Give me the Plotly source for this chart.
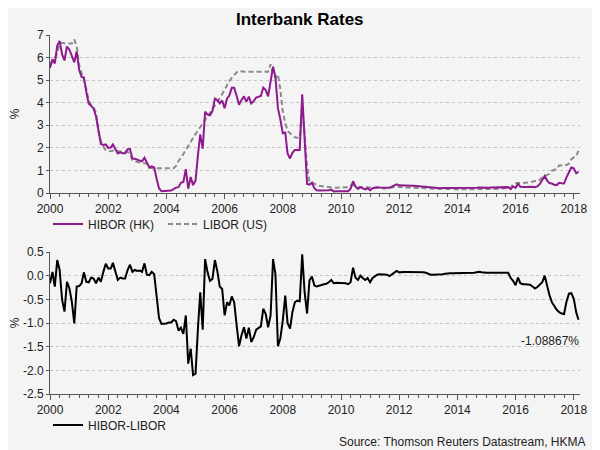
import pandas as pd
import plotly.graph_objects as go

dates = pd.date_range("2000-01-01", "2018-03-01", freq="MS")

libor = [
    5.70, 5.85, 5.97, 6.20, 6.62, 6.65, 6.63, 6.62, 6.62, 6.62, 6.80, 6.50,
    5.67, 5.30, 5.05, 4.60, 4.10, 3.90, 3.80, 3.55, 2.70, 2.30, 2.05, 1.90,
    1.85, 1.86, 1.88, 1.85, 1.84, 1.84, 1.82, 1.82, 1.82, 1.72, 1.45, 1.40,
    1.38, 1.34, 1.32, 1.30, 1.30, 1.12, 1.10, 1.10, 1.10, 1.10, 1.10, 1.10,
    1.10, 1.10, 1.10, 1.10, 1.20, 1.42, 1.55, 1.72, 1.90, 2.05, 2.25, 2.45,
    2.62, 2.80, 2.95, 3.10, 3.25, 3.40, 3.55, 3.70, 3.85, 4.02, 4.20, 4.38,
    4.60, 4.75, 4.95, 5.10, 5.22, 5.35, 5.40, 5.38, 5.37, 5.37, 5.37, 5.37,
    5.37, 5.37, 5.37, 5.37, 5.37, 5.37, 5.37, 5.70, 5.25, 5.10, 5.25, 4.60,
    3.60, 3.10, 2.75, 2.65, 2.55, 2.47, 2.45, 2.45, 3.92, 2.60, 1.20, 0.47,
    0.47, 0.42, 0.35, 0.32, 0.30, 0.28, 0.27, 0.26, 0.24, 0.23, 0.23, 0.23,
    0.23, 0.23, 0.24, 0.26, 0.33, 0.35, 0.33, 0.27, 0.26, 0.26, 0.25, 0.26,
    0.26, 0.26, 0.25, 0.23, 0.21, 0.20, 0.20, 0.22, 0.24, 0.25, 0.26, 0.28,
    0.27, 0.25, 0.24, 0.24, 0.24, 0.24, 0.24, 0.23, 0.22, 0.21, 0.21, 0.21,
    0.20, 0.20, 0.20, 0.20, 0.19, 0.19, 0.19, 0.18, 0.18, 0.17, 0.17, 0.17,
    0.16, 0.16, 0.16, 0.15, 0.15, 0.15, 0.16, 0.16, 0.16, 0.16, 0.16, 0.17,
    0.17, 0.17, 0.18, 0.18, 0.18, 0.19, 0.19, 0.20, 0.20, 0.20, 0.22, 0.40,
    0.43, 0.44, 0.44, 0.44, 0.45, 0.46, 0.48, 0.51, 0.53, 0.53, 0.58, 0.70,
    0.75, 0.77, 0.85, 0.98, 1.01, 1.07, 1.22, 1.23, 1.23, 1.24, 1.30, 1.50,
    1.58, 1.65, 1.87,
]

hibor = [
    5.54, 5.93, 5.74, 6.53, 6.74, 6.14, 5.87, 6.49, 6.35, 6.07, 5.79, 6.27,
    5.45, 5.14, 5.12, 4.47, 3.96, 3.86, 3.74, 3.39, 2.66, 2.17, 2.13, 2.15,
    2.00, 2.01, 2.15, 1.93, 1.75, 1.80, 1.76, 1.76, 1.94, 1.95, 1.53, 1.52,
    1.48, 1.45, 1.40, 1.56, 1.32, 1.13, 1.18, 1.13, 0.62, 0.20, 0.08, 0.08,
    0.09, 0.11, 0.11, 0.17, 0.24, 0.26, 0.45, 0.49, 1.06, 0.19, 0.71, 0.35,
    0.55, 1.71, 2.60, 1.96, 3.60, 3.47, 3.44, 3.63, 4.18, 4.12, 3.97, 4.10,
    3.76, 4.19, 4.32, 4.66, 4.66, 4.30, 3.91, 4.12, 4.28, 4.04, 4.27, 3.97,
    4.07, 4.23, 4.27, 4.30, 4.67, 4.56, 4.28, 4.86, 5.60, 5.13, 3.76, 3.27,
    2.65, 2.68, 1.75, 1.53, 1.78, 1.91, 1.92, 1.91, 4.37, 2.25, 0.40, 0.37,
    0.45, 0.21, 0.12, 0.11, 0.11, 0.10, 0.10, 0.12, 0.15, 0.07, 0.08, 0.08,
    0.08, 0.08, 0.08, 0.08, 0.19, 0.52, 0.29, 0.18, 0.26, 0.21, 0.16, 0.21,
    0.12, 0.21, 0.24, 0.25, 0.24, 0.23, 0.22, 0.24, 0.23, 0.28, 0.32, 0.38,
    0.34, 0.33, 0.32, 0.32, 0.32, 0.32, 0.32, 0.31, 0.30, 0.29, 0.28, 0.27,
    0.24, 0.22, 0.22, 0.22, 0.21, 0.21, 0.22, 0.22, 0.23, 0.22, 0.22, 0.22,
    0.21, 0.21, 0.21, 0.20, 0.21, 0.21, 0.22, 0.22, 0.23, 0.24, 0.23, 0.23,
    0.23, 0.23, 0.24, 0.24, 0.24, 0.25, 0.25, 0.26, 0.26, 0.26, 0.17, 0.29,
    0.23, 0.40, 0.28, 0.26, 0.27, 0.27, 0.29, 0.28, 0.26, 0.29, 0.40, 0.56,
    0.75, 0.55, 0.44, 0.42, 0.36, 0.35, 0.45, 0.43, 0.42, 0.69, 0.92, 1.13,
    1.09, 0.87, 0.94,
]

spread = [
    -0.16, 0.08, -0.23, 0.33, 0.12, -0.51, -0.76, -0.13, -0.27, -0.55, -1.01, -0.23,
    -0.22, -0.16, 0.07, -0.13, -0.14, -0.04, -0.06, -0.16, -0.04, -0.13, 0.08, 0.25,
    0.15, 0.15, 0.27, 0.08, -0.09, -0.04, -0.06, -0.06, 0.12, 0.23, 0.08, 0.12,
    0.10, 0.11, 0.08, 0.26, 0.02, 0.01, 0.08, 0.03, -0.48, -0.90, -1.02, -1.02,
    -1.01, -0.99, -0.99, -0.93, -0.96, -1.16, -1.10, -1.23, -0.84, -1.86, -1.54, -2.10,
    -2.07, -1.09, -0.35, -1.14, 0.35, 0.07, -0.11, -0.07, 0.33, 0.10, -0.23, -0.28,
    -0.84, -0.56, -0.63, -0.44, -0.56, -1.05, -1.49, -1.26, -1.09, -1.33, -1.10, -1.40,
    -1.30, -1.14, -1.10, -1.07, -0.70, -0.81, -1.09, -0.84, 0.35, 0.03, -1.49, -1.33,
    -0.95, -0.42, -1.00, -1.12, -0.77, -0.56, -0.53, -0.54, 0.45, -0.35, -0.80, -0.10,
    -0.02, -0.21, -0.23, -0.21, -0.19, -0.18, -0.17, -0.14, -0.09, -0.16, -0.15, -0.15,
    -0.15, -0.15, -0.16, -0.18, -0.14, 0.17, -0.04, -0.09, 0.00, -0.05, -0.09, -0.05,
    -0.14, -0.05, -0.01, 0.02, 0.03, 0.03, 0.02, 0.02, -0.01, 0.03, 0.06, 0.10,
    0.07, 0.08, 0.08, 0.08, 0.08, 0.08, 0.08, 0.08, 0.08, 0.08, 0.07, 0.06,
    0.04, 0.02, 0.02, 0.02, 0.02, 0.02, 0.03, 0.04, 0.05, 0.05, 0.05, 0.05,
    0.05, 0.05, 0.05, 0.05, 0.06, 0.06, 0.06, 0.06, 0.07, 0.08, 0.07, 0.06,
    0.06, 0.06, 0.06, 0.06, 0.06, 0.06, 0.06, 0.06, 0.06, 0.06, -0.05, -0.11,
    -0.20, -0.04, -0.16, -0.18, -0.18, -0.19, -0.19, -0.23, -0.27, -0.24, -0.18, -0.14,
    0.00, -0.22, -0.41, -0.56, -0.65, -0.72, -0.77, -0.80, -0.81, -0.55, -0.38, -0.37,
    -0.49, -0.78, -0.93,
]

top_ticks = [0, 1, 2, 3, 4, 5, 6, 7]
bottom_ticks = [0.5, 0.0, -0.5, -1.0, -1.5, -2.0, -2.5]
bottom_tick_text = ["0.5", "0.0", "-0.5", "-1.0", "-1.5", "-2.0", "-2.5"]
last_label = "-1.08867%"

FONT = "Arial, Liberation Sans, sans-serif"
BG = "#f4f4f4"
PURPLE = "#8e1a8e"

# The page body adds an 8px offset; targets below are in screenshot pixels.
OFF = 8
W, H = 600, 450
ML, MR, MT, MB = 50 - OFF, W - (580 - OFF), 20, 40
PW, PH = W - ML - MR, H - MT - MB


def px(xp):
    return (xp - OFF - ML) / PW


def py(yp):
    return 1 - (yp - OFF - MT) / PH


fig = go.Figure()
fig.add_trace(go.Scatter(x=dates, y=libor, name="LIBOR (US)", mode="lines",
                         line=dict(color="#8a8a8a", width=2, dash="5px,3px"),
                         xaxis="x", yaxis="y", legend="legend"))
fig.add_trace(go.Scatter(x=dates, y=hibor, name="HIBOR (HK)", mode="lines",
                         line=dict(color=PURPLE, width=2),
                         xaxis="x", yaxis="y", legend="legend"))
fig.add_trace(go.Scatter(x=dates, y=spread, name="HIBOR-LIBOR", mode="lines",
                         line=dict(color="#000000", width=2),
                         xaxis="x2", yaxis="y2", legend="legend2"))

xcommon = dict(
    type="date", range=["2000-01-01", "2018-03-20"], tick0="2000-01-01",
    dtick="M24", tickformat="%Y", showline=True, linecolor="#555555",
    linewidth=1, ticks="outside", ticklen=5, tickcolor="#555555",
    minor=dict(dtick="M4", ticks="outside", ticklen=3, tickcolor="#555555"),
    showgrid=False, zeroline=False, automargin=False,
    tickfont=dict(family=FONT, size=12, color="#222222"),
)
ycommon = dict(
    showline=True, linecolor="#555555", linewidth=1, ticks="outside",
    ticklen=3, tickcolor="#555555", showgrid=True, gridcolor="#c4c4c4",
    griddash="dot", gridwidth=1, zeroline=False, automargin=False,
    tickfont=dict(family=FONT, size=12, color="#222222"),
    title=dict(text="%", font=dict(family=FONT, size=12, color="#222222"), standoff=14),
)

fig.update_layout(
    width=W, height=H,
    margin=dict(l=ML, r=MR, t=MT, b=MB, autoexpand=False),
    paper_bgcolor=BG, plot_bgcolor=BG,
    font=dict(family=FONT, size=12, color="#222222"),
    xaxis=dict(domain=[0, 1], anchor="y", **xcommon),
    yaxis=dict(domain=[py(193), py(35)], anchor="x",
               range=[0, 7], tickvals=top_ticks, **ycommon),
    xaxis2=dict(domain=[0, 1], anchor="y2", **xcommon),
    yaxis2=dict(domain=[py(394), py(252)], anchor="x2",
                range=[-2.5, 0.5], tickvals=bottom_ticks,
                ticktext=bottom_tick_text, **ycommon),
    legend=dict(orientation="h", x=px(48), y=py(224), xanchor="left",
                yanchor="middle", traceorder="reversed",
                bgcolor="rgba(0,0,0,0)", font=dict(family=FONT, size=12),
                entrywidth=70, itemwidth=30),
    legend2=dict(orientation="h", x=px(48), y=py(425), xanchor="left",
                 yanchor="middle", bgcolor="rgba(0,0,0,0)",
                 font=dict(family=FONT, size=12), itemwidth=30),
    showlegend=True,
)

fig.add_annotation(text="<b>Interbank Rates</b>", x=px(300), y=py(OFF + 1),
                   xref="paper", yref="paper", showarrow=False, borderpad=0,
                   font=dict(family=FONT, size=17, color="#000000"),
                   xanchor="center", yanchor="top")
fig.add_annotation(text="Source: Thomson Reuters Datastream, HKMA",
                   x=px(588), y=py(442), xref="paper", yref="paper",
                   showarrow=False, xanchor="right", yanchor="middle",
                   font=dict(family=FONT, size=12, color="#222222"))
fig.add_annotation(text=last_label, x=dates[-1], y=spread[-1],
                   xref="x2", yref="y2", showarrow=False,
                   xanchor="right", yanchor="top", xshift=3, yshift=-12,
                   font=dict(family=FONT, size=12, color="#222222"))

fig.write_html("out.html")
